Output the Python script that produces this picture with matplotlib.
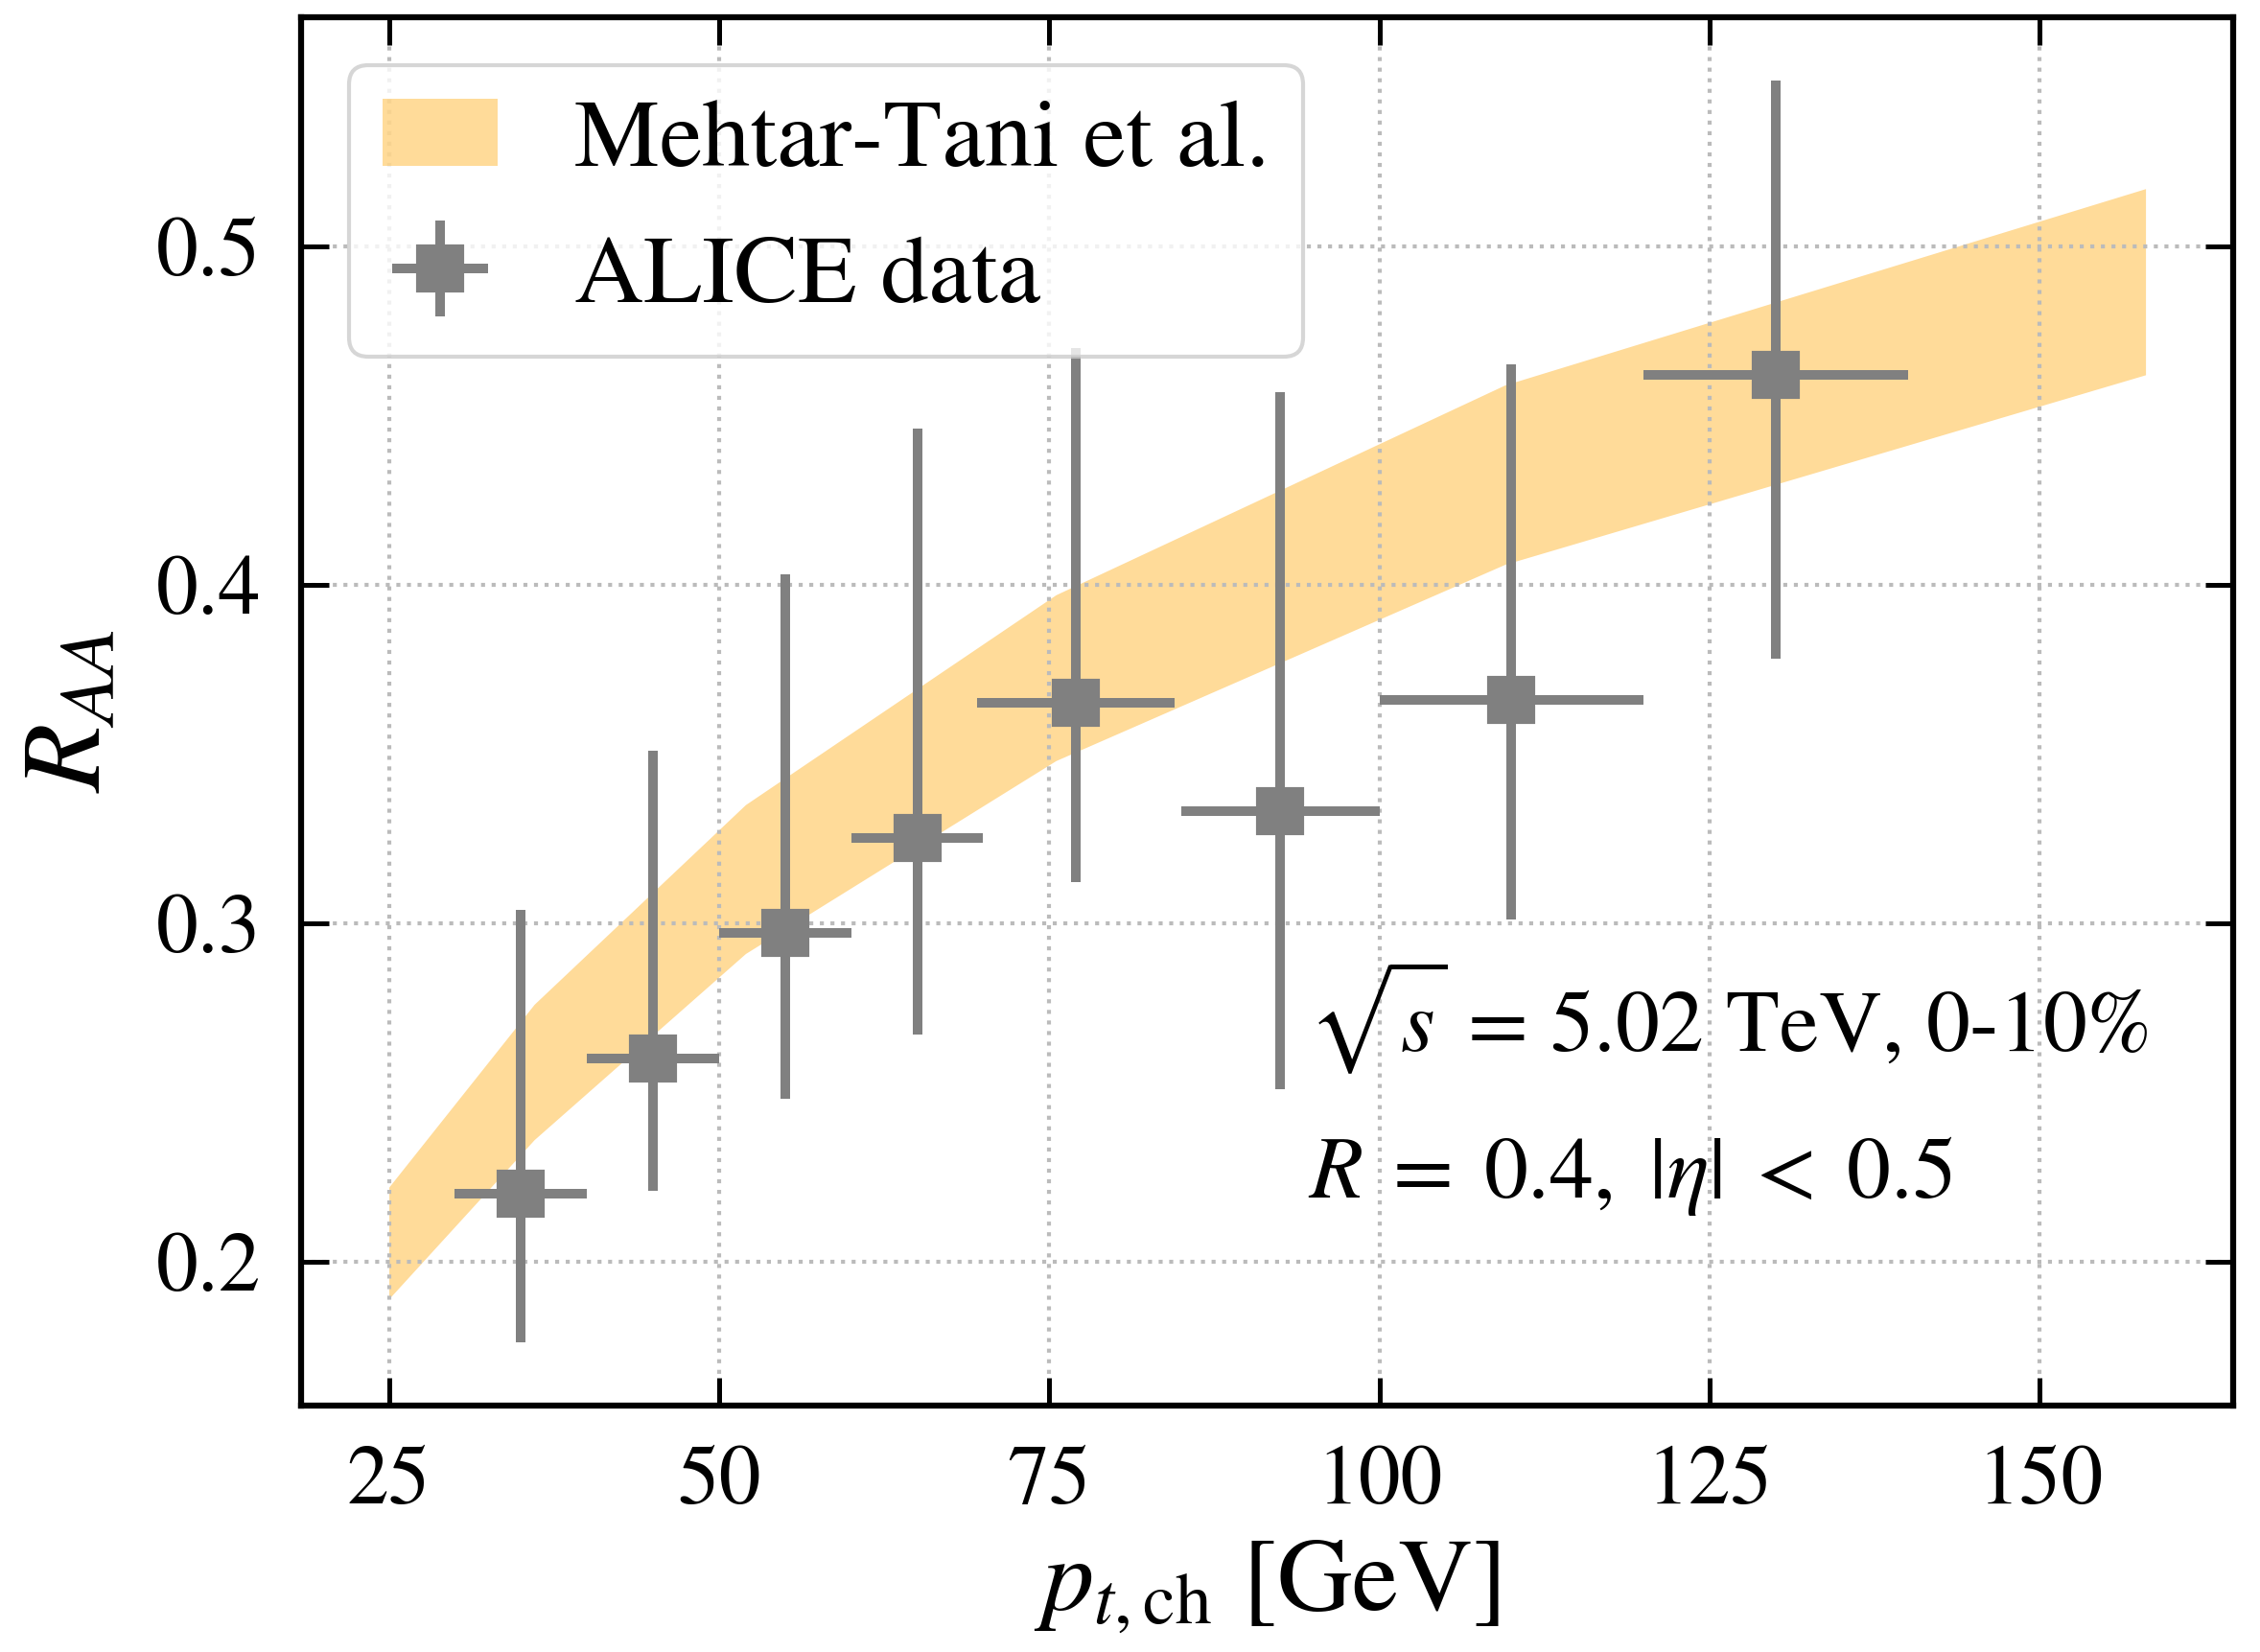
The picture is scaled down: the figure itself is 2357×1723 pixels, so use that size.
import numpy as np
import matplotlib
matplotlib.use("Agg")
import matplotlib.pyplot as plt

plt.rcParams['font.family'] = 'STIXGeneral'
plt.rcParams['mathtext.fontset'] = 'stix'

# theory band (Mehtar-Tani et al.)
band_pt = [25, 36, 52, 75.5, 109.5, 158]
band_low = [0.189, 0.236, 0.291, 0.348, 0.406, 0.462]
band_high = [0.222, 0.276, 0.335, 0.397, 0.459, 0.517]

# ALICE data
data_pt = [35, 45, 55, 65, 77, 92.5, 110, 130]
data_pt_low = [30, 40, 50, 60, 69.5, 85, 100, 120]
data_pt_high = [40, 50, 60, 70, 84.5, 100, 120, 140]
data_raa = [0.220, 0.260, 0.297, 0.325, 0.365, 0.333, 0.366, 0.462]
data_raa_low = [0.176, 0.221, 0.248, 0.267, 0.312, 0.251, 0.301, 0.378]
data_raa_high = [0.304, 0.351, 0.403, 0.446, 0.470, 0.457, 0.465, 0.549]

x = np.array(data_pt)
y = np.array(data_raa)
xerr = [x - np.array(data_pt_low), np.array(data_pt_high) - x]
yerr = [y - np.array(data_raa_low), np.array(data_raa_high) - y]

fig = plt.figure(figsize=(2357 / 300, 1723 / 300), dpi=300)
ax = fig.add_axes([0.1332, 0.149, 0.855, 0.8406])

ax.fill_between(band_pt, band_low, band_high, color='orange', alpha=0.4,
                lw=0, label='Mehtar-Tani et al.')
ax.errorbar(x, y, xerr=xerr, yerr=yerr, fmt='s', color='gray', ms=11,
            elinewidth=2.4, capsize=0, label='ALICE data')

ax.set_xlabel(r'$p_{t,\mathrm{ch}}$ [GeV]', fontsize=26, labelpad=4)
ax.set_ylabel(r'$R_{AA}$', fontsize=28, labelpad=8)

ax.set_xticks([25, 50, 75, 100, 125, 150])
ax.set_yticks([0.2, 0.3, 0.4, 0.5])
ax.tick_params(direction='in', top=True, right=True, length=7, width=1.2,
               labelsize=21, pad=10)
for s in ax.spines.values():
    s.set_linewidth(1.5)
ax.grid(True, linestyle=':', color='#bbbbbb', lw=1)

ax.text(94.6, 0.262, r'$\sqrt{s}$ = 5.02 TeV, 0-10%', fontsize=22)
ax.text(94.6, 0.219, r'$R\;=\;0.4,\ |\eta|\;<\;0.5$', fontsize=22)

ax.legend(loc='upper left', fontsize=24, handlelength=1.2, handletextpad=0.8,
          labelspacing=0.5, borderpad=0.35, fancybox=True)

fig.savefig('out.png', dpi=300)
